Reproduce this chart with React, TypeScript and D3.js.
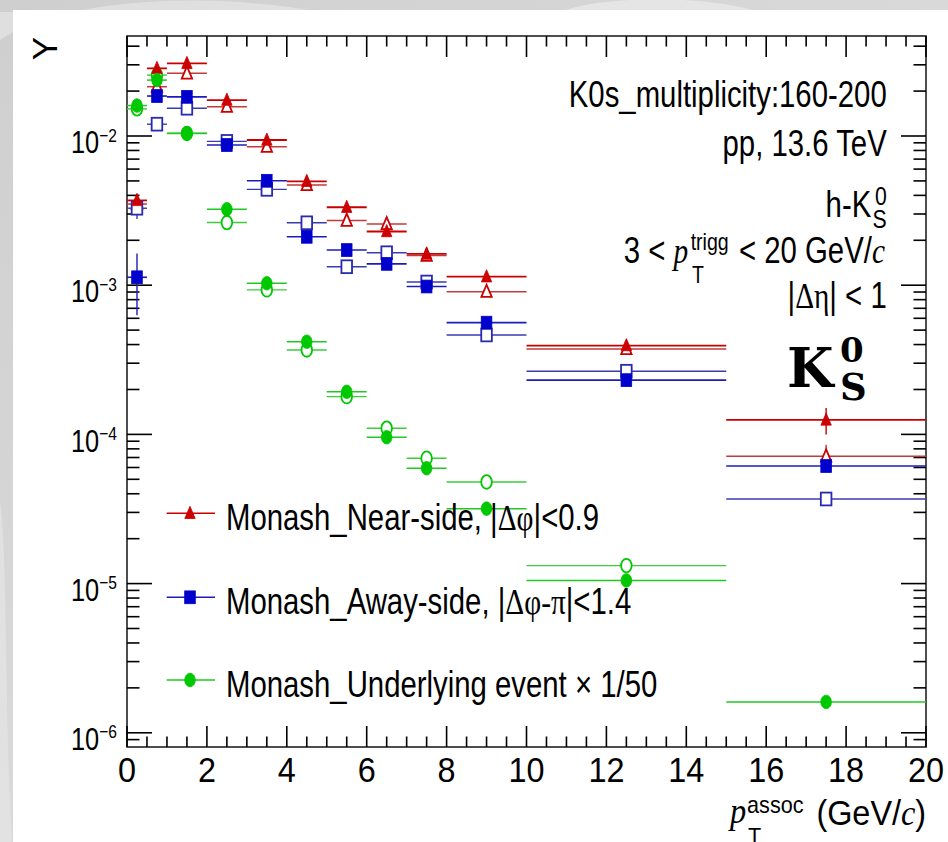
import React from 'react';
import * as d3 from 'd3';

const W = 948;
const H = 842;

// pT(assoc) bins in GeV/c
const binLow = [0, 0.5, 1, 2, 3, 4, 5, 6, 7, 8, 10, 15];
const binHigh = [0.5, 1, 2, 3, 4, 5, 6, 7, 8, 10, 15, 20];
const binCenter = [0.25, 0.75, 1.5, 2.5, 3.5, 4.5, 5.5, 6.5, 7.5, 9, 12.5, 17.5];

// per-trigger yields
const nearFilled = [0.0037, 0.0284, 0.0307, 0.0174, 0.0094, 0.00497, 0.00333, 0.00229, 0.00162, 0.00114, 0.000394, 0.000125];
const nearOpen = [0.0035, 0.0214, 0.0263, 0.0157, 0.00848, 0.0047, 0.00271, 0.00257, 0.00158, 0.000904, 0.000374, 0.0000713];
const awayFilled = [0.00113, 0.01853, 0.0183, 0.0087, 0.00501, 0.00211, 0.00172, 0.00139, 0.00098, 0.000561, 0.000231, 0.0000614];
const awayOpen = [0.00328, 0.012, 0.01535, 0.0092, 0.00439, 0.00262, 0.00133, 0.00165, 0.00105, 0.000464, 0.000265, 0.0000369];
const ueFilled = [0.016, 0.0237, 0.01042, 0.00323, 0.00103, 0.000418, 0.000193, 0.0000957, 0.0000593, 0.0000318, 0.0000105, 0.00000161];
const ueOpen = [0.0152, 0.0256, 0.0104, 0.00263, 0.00093, 0.000368, 0.000179, 0.00011, 0.0000692, 0.000048, 0.0000132, null];

// statistical errors on the yields
const nearFilledErr = [0.0004, 0, 0, 0, 0, 0, 0, 0, 0, 0, 0, 0.000025];
const nearOpenErr = [0, 0, 0, 0, 0, 0, 0, 0, 0, 0, 0, 0.000014];
const awayFilledErr = [0.0005, 0, 0, 0, 0, 0, 0, 0, 0, 0, 0, 0];
const awayOpenErr = [0.0005, 0, 0, 0, 0, 0, 0, 0, 0, 0, 0, 0];
const ueFilledErr = [0, 0, 0, 0, 0, 0, 0, 0, 0, 0, 0, 0];
const ueOpenErr = [0, 0, 0, 0, 0, 0, 0, 0, 0, 0, 0, 0];

const xTickValues = [0, 2, 4, 6, 8, 10, 12, 14, 16, 18, 20];
const yDecades = [-6, -5, -4, -3, -2];

const legendLabels = [
  ['Monash_Near-side, |', 'Δφ', '|<0.9'],
  ['Monash_Away-side, |', 'Δφ-π', '|<1.4'],
  ['Monash_Underlying event × 1/50', '', ''],
];

const SANS = "'Liberation Sans', Arial, Helvetica, sans-serif";
const SERIF = "'Liberation Serif', 'Times New Roman', serif";

const frame = { left: 127, right: 926, top: 36, bottom: 747 };

const RED = '#cc0000';
const BLUE = '#0000cc';
const GREEN = '#00c800';

type Shape = 'triangle' | 'square' | 'circle';

interface Series {
  values: (number | null)[];
  errors: number[];
  shape: Shape;
  filled: boolean;
  marker: string;
  line: string;
  lineWidth: number;
}

const seriesList: Series[] = [
  { values: nearOpen, errors: nearOpenErr, shape: 'triangle', filled: false, marker: RED, line: '#c23a3a', lineWidth: 1.5 },
  { values: awayOpen, errors: awayOpenErr, shape: 'square', filled: false, marker: '#2a2ab0', line: '#3b3bb0', lineWidth: 1.4 },
  { values: ueOpen, errors: ueOpenErr, shape: 'circle', filled: false, marker: GREEN, line: '#3ccc3c', lineWidth: 1.4 },
  { values: nearFilled, errors: nearFilledErr, shape: 'triangle', filled: true, marker: RED, line: '#c80000', lineWidth: 1.8 },
  { values: awayFilled, errors: awayFilledErr, shape: 'square', filled: true, marker: BLUE, line: '#1c1cbc', lineWidth: 1.6 },
  { values: ueFilled, errors: ueFilledErr, shape: 'circle', filled: true, marker: GREEN, line: '#22c822', lineWidth: 1.5 },
];

const x = d3.scaleLinear().domain([0, 20]).range([frame.left, frame.right]);
const y = d3.scaleLog().domain([8.03e-7, 0.0468]).range([frame.bottom, frame.top]);

function Marker({ shape, filled, color, cx, cy }: { shape: Shape; filled: boolean; color: string; cx: number; cy: number }) {
  const fill = filled ? color : '#ffffff';
  const sw = filled ? 0.8 : 1.8;
  if (shape === 'triangle') {
    const pts = [
      [cx, cy - 7],
      [cx - 5.2, cy + 5.2],
      [cx + 5.2, cy + 5.2],
    ];
    return <polygon points={pts.map((p) => p.join(',')).join(' ')} fill={fill} stroke={color} strokeWidth={sw} strokeLinejoin="miter" />;
  }
  if (shape === 'square') {
    return <rect x={cx - 5.3} y={cy - 6.4} width={10.6} height={12.8} fill={fill} stroke={color} strokeWidth={sw} />;
  }
  return <ellipse cx={cx} cy={cy} rx={5.3} ry={6.8} fill={fill} stroke={color} strokeWidth={sw} />;
}

function SeriesLines({ s }: { s: Series }) {
  return (
    <g>
      {s.values.map((v, i) => {
        if (v == null) return null;
        const cy = y(v);
        const cx = x(binCenter[i]);
        const e = s.errors[i];
        return (
          <g key={i}>
            <line x1={x(binLow[i])} x2={x(binHigh[i])} y1={cy} y2={cy} stroke={s.line} strokeWidth={s.lineWidth} />
            {e > 0 && <line x1={cx} x2={cx} y1={y(v + e)} y2={y(Math.max(v - e, 1e-9))} stroke={s.line} strokeWidth={1.4} />}
          </g>
        );
      })}
    </g>
  );
}

function SeriesMarkers({ s }: { s: Series }) {
  return (
    <g>
      {s.values.map((v, i) =>
        v == null ? null : <Marker key={i} shape={s.shape} filled={s.filled} color={s.marker} cx={x(binCenter[i])} cy={y(v)} />
      )}
    </g>
  );
}

function Axes() {
  const xMinor = d3.range(0, 20.01, 0.5).filter((v) => Math.abs(v % 2) > 1e-6);
  const [ymin, ymax] = y.domain();
  const yMinor: number[] = [];
  for (let k = -7; k <= -1; k++) {
    for (let m = 2; m <= 9; m++) {
      const v = m * Math.pow(10, k);
      if (v >= ymin && v <= ymax) yMinor.push(v);
    }
  }
  const major = 21;
  const minor = 10.5;
  const yMajorLen = 25;
  const yMinorLen = 12.5;
  const ax = '#000';
  return (
    <g stroke={ax} strokeWidth={1.6} fill="none">
      <rect x={frame.left} y={frame.top} width={frame.right - frame.left} height={frame.bottom - frame.top} strokeWidth={1.6} stroke="#222" />
      {xTickValues.map((v) => (
        <g key={'xM' + v}>
          <line x1={x(v)} x2={x(v)} y1={frame.bottom} y2={frame.bottom - major} />
          <line x1={x(v)} x2={x(v)} y1={frame.top} y2={frame.top + major} />
        </g>
      ))}
      {xMinor.map((v) => (
        <g key={'xm' + v}>
          <line x1={x(v)} x2={x(v)} y1={frame.bottom} y2={frame.bottom - minor} />
          <line x1={x(v)} x2={x(v)} y1={frame.top} y2={frame.top + minor} />
        </g>
      ))}
      {yDecades.map((k) => {
        const yy = y(Math.pow(10, k));
        return (
          <g key={'yM' + k}>
            <line x1={frame.left} x2={frame.left + yMajorLen} y1={yy} y2={yy} />
            <line x1={frame.right} x2={frame.right - yMajorLen} y1={yy} y2={yy} />
          </g>
        );
      })}
      {yMinor.map((v, i) => (
        <g key={'ym' + i}>
          <line x1={frame.left} x2={frame.left + yMinorLen} y1={y(v)} y2={y(v)} />
          <line x1={frame.right} x2={frame.right - yMinorLen} y1={y(v)} y2={y(v)} />
        </g>
      ))}
    </g>
  );
}

function AxisLabels() {
  return (
    <g fontFamily={SANS} fill="#000">
      {xTickValues.map((v) => (
        <g key={'xl' + v} transform={`translate(${x(v)},781.5) scale(0.9,1)`}>
          <text textAnchor="middle" fontSize={36}>{v}</text>
        </g>
      ))}
      {yDecades.map((k) => (
        <g key={'yl' + k} transform={`translate(117,${y(Math.pow(10, k)) + 17.3}) scale(0.82,1)`}>
          <text textAnchor="end" fontSize={31}>
            10
            <tspan fontSize={19} dy={-11.6}>{'−' + Math.abs(k)}</tspan>
          </text>
        </g>
      ))}
      {/* y title, ROOT style, rotated at the top of the axis */}
      <text transform="translate(57,37) rotate(-90)" textAnchor="end" fontSize={35}>Y</text>
      {/* x title */}
      <g transform="translate(730,823) scale(0.9,1)">
        <text fontSize={36}>
          <tspan fontFamily={SERIF} fontStyle="italic">p</tspan>
          <tspan fontSize={24} dx={1} dy={-10}>assoc</tspan>
        </text>
        <text x={20} y={22} fontSize={24}>T</text>
        <text x={96} y={2} fontSize={36}>
          (GeV/<tspan fontFamily={SERIF} fontStyle="italic">c</tspan>)
        </text>
      </g>
    </g>
  );
}

function InfoText() {
  const r = 0.815;
  const fs = 36;
  const right = 886.7;
  return (
    <g fontFamily={SANS} fill="#000">
      <g transform={`translate(${right},107.3) scale(${r},1)`}>
        <text textAnchor="end" fontSize={fs}>K0s_multiplicity:160-200</text>
      </g>
      <g transform={`translate(${right},156) scale(${r},1)`}>
        <text textAnchor="end" fontSize={fs}>pp, 13.6 TeV</text>
      </g>
      <g transform={`translate(${right},216.7) scale(${r},1)`}>
        <text textAnchor="end" x={-19} fontSize={fs}>h-K</text>
        <text textAnchor="end" y={-12} fontSize={26}>0</text>
        <text textAnchor="end" y={11.5} fontSize={26}>S</text>
      </g>
      <g transform={`translate(623.8,263.3) scale(${r},1)`}>
        <text fontSize={fs}>
          {'3 < '}
          <tspan fontFamily={SERIF} fontStyle="italic">p</tspan>
          <tspan fontSize={24} dx={3} dy={-13.5}>trigg</tspan>
          <tspan fontSize={24} dx={-45} dy={33.5}>T</tspan>
          <tspan dx={33} dy={-20}>{' < 20 GeV/'}</tspan>
          <tspan fontFamily={SERIF} fontStyle="italic">c</tspan>
        </text>
      </g>
      <g transform={`translate(${right},308.3) scale(${r},1)`}>
        <text textAnchor="end" fontSize={fs}>
          |<tspan fontFamily={SERIF}>Δη</tspan>| &lt; 1
        </text>
      </g>
      <g fontFamily="'DejaVu Serif', serif" fontWeight="bold">
        <text x={787} y={386.7} fontSize={53.5}>K</text>
        <text x={840} y={361.7} fontSize={34}>0</text>
        <text x={840} y={400} fontSize={37}>S</text>
      </g>
    </g>
  );
}

function Legend() {
  const rows = [513.3, 597.3, 680];
  const entries = [seriesList[3], seriesList[4], seriesList[5]];
  return (
    <g>
      {entries.map((s, i) => (
        <g key={i}>
          <line x1={166.7} x2={215} y1={rows[i]} y2={rows[i]} stroke={s.line} strokeWidth={1.5} />
          <Marker shape={s.shape} filled={true} color={s.marker} cx={190} cy={rows[i]} />
          <g transform={`translate(226,${rows[i] + 16.7}) scale(0.815,1)`}>
            <text fontFamily={SANS} fontSize={36} fill="#000">
              {legendLabels[i][0]}
              {legendLabels[i][1] && <tspan fontFamily={SERIF}>{legendLabels[i][1]}</tspan>}
              {legendLabels[i][2]}
            </text>
          </g>
        </g>
      ))}
    </g>
  );
}

function Backdrop() {
  return (
    <g>
      <defs>
        <linearGradient id="bgGrad" x1="0" y1="0" x2="1" y2="1">
          <stop offset="0" stopColor="#cfcfcf" />
          <stop offset="0.5" stopColor="#d9d9d9" />
          <stop offset="1" stopColor="#c4c4c4" />
        </linearGradient>
      </defs>
      <rect x={0} y={0} width={W} height={H} fill="url(#bgGrad)" />
      <path d="M 0 40 C 60 0, 200 -10, 320 12 L 0 12 Z" fill="#e6e6e6" opacity={0.7} />
      <path d="M 560 12 C 600 -4, 700 -6, 760 12 Z" fill="#e9e9e9" opacity={0.8} />
      <path d="M 0 500 C 8 560, 4 700, 12 842 L 0 842 Z" fill="#e8e8e8" opacity={0.6} />
      <rect x={13} y={10} width={W - 13} height={H - 10} fill="#ffffff" />
    </g>
  );
}

export default function App() {
  return (
    <svg width={W} height={H} viewBox={`0 0 ${W} ${H}`} style={{ position: 'absolute', left: 0, top: 0, display: 'block' }}>
      <Backdrop />
      <Axes />
      {seriesList.map((s, i) => (
        <SeriesLines key={'l' + i} s={s} />
      ))}
      {seriesList.map((s, i) => (
        <SeriesMarkers key={'m' + i} s={s} />
      ))}
      <AxisLabels />
      <InfoText />
      <Legend />
    </svg>
  );
}
